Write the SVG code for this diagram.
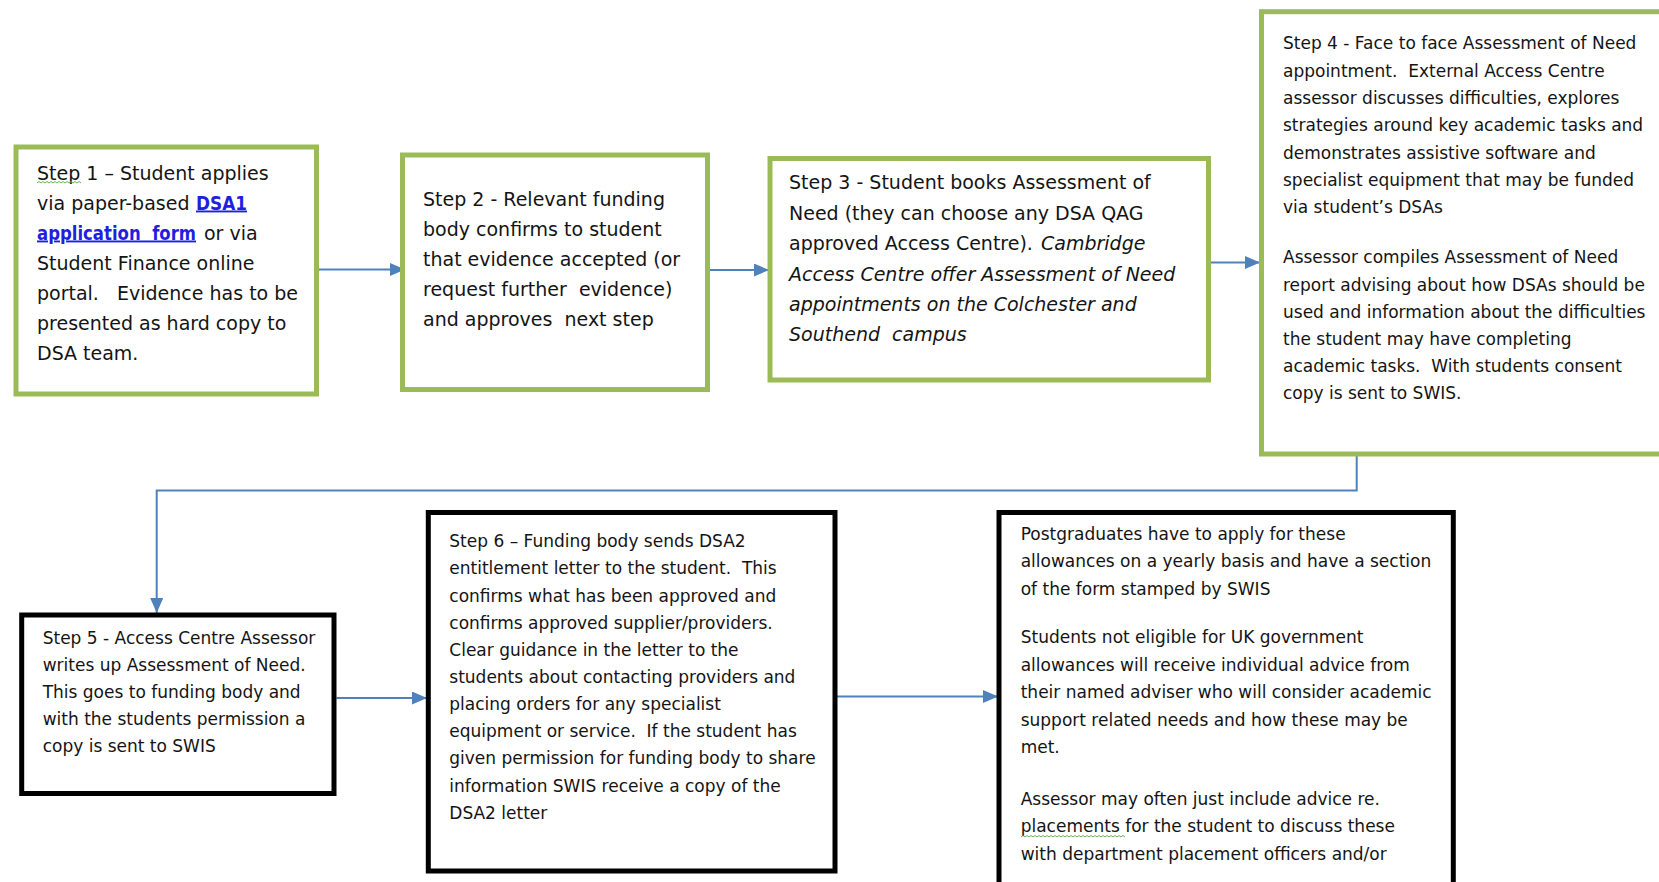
<svg xmlns="http://www.w3.org/2000/svg" width="1659" height="882" viewBox="0 0 1659 882">
<style>
.g{fill:#fff;stroke:#9BBB59;stroke-width:5}
.k{fill:#fff;stroke:#000;stroke-width:5}
.t{font-family:"DejaVu Sans",sans-serif;fill:#141414}
.l{font-size:19px}
.s{font-size:17px}
.it{font-style:italic}
.link{fill:#1F1FE0;font-weight:bold;text-decoration:underline}
.conn{fill:none;stroke:#4F81BD;stroke-width:2}
.sq{fill:none;stroke:#5BAA45;stroke-width:0.9}
</style>
<defs><marker id="ah" markerUnits="userSpaceOnUse" markerWidth="15" markerHeight="13" refX="15" refY="6.5" orient="auto"><path d="M0,0 L15,6.5 L0,13 Z" fill="#4F81BD"/></marker></defs>
<rect width="1659" height="882" fill="#fff"/>
<g id="connectors">
<path class="conn" d="M319,269.5 H405" marker-end="url(#ah)"/>
<path class="conn" d="M710,270 H769" marker-end="url(#ah)"/>
<path class="conn" d="M1211,262.5 H1260" marker-end="url(#ah)"/>
<path class="conn" d="M1356.7,456 V490.5 H156.7 V613" marker-end="url(#ah)"/>
<path class="conn" d="M336.5,698 H427" marker-end="url(#ah)"/>
<path class="conn" d="M837,696.5 H998" marker-end="url(#ah)"/>
</g>
<g id="step1">
<rect class="g" x="16" y="147" width="300.5" height="247"/>
<g class="t l">
<text x="37" y="179.5">Step 1 – Student applies</text>
<text x="37" y="209.5">via paper-based</text>
<text x="196" y="209.5" class="link" textLength="51" lengthAdjust="spacingAndGlyphs">DSA1</text>
<text x="37" y="239.5" class="link" textLength="159" lengthAdjust="spacingAndGlyphs">application&#160; form</text>
<text x="204" y="239.5">or via</text>
<text x="37" y="269.5">Student Finance online</text>
<text x="37" y="299.5">portal.&#160;&#160; Evidence has to be</text>
<text x="37" y="329.5">presented as hard copy to</text>
<text x="37" y="359.5">DSA team.</text>
</g>
<path class="sq" d="M37,183 l2,-1.5 2,1.5 2,-1.5 2,1.5 2,-1.5 2,1.5 2,-1.5 2,1.5 2,-1.5 2,1.5 2,-1.5 2,1.5 2,-1.5 2,1.5 2,-1.5 2,1.5 2,-1.5 2,1.5 2,-1.5 2,1.5 2,-1.5 2,1.5"/>
</g>
<g id="step2">
<rect class="g" x="402.5" y="155" width="305" height="234.5"/>
<g class="t l">
<text x="423" y="205.5">Step 2 - Relevant funding</text>
<text x="423" y="235.5">body confirms to student</text>
<text x="423" y="265.8">that evidence accepted (or</text>
<text x="423" y="296">request further&#160; evidence)</text>
<text x="423" y="326">and approves&#160; next step</text>
</g>
</g>
<g id="step3">
<rect class="g" x="770" y="158.5" width="438.5" height="221.5"/>
<g class="t l">
<text x="789" y="189">Step 3 - Student books Assessment of</text>
<text x="789" y="219.5">Need (they can choose any DSA QAG</text>
<text x="789" y="250">approved Access Centre).</text>
<text x="1041" y="250" class="it">Cambridge</text>
<text x="789" y="280.5" class="it">Access Centre offer Assessment of Need</text>
<text x="789" y="311" class="it">appointments on the Colchester and</text>
<text x="789" y="341" class="it">Southend&#160; campus</text>
</g>
</g>
<g id="step4">
<rect class="g" x="1261.5" y="11.7" width="420" height="442.3"/>
<g class="t s">
<text x="1283" y="49">Step 4 - Face to face Assessment of Need</text>
<text x="1283" y="76.5">appointment.&#160; External Access Centre</text>
<text x="1283" y="104">assessor discusses difficulties, explores</text>
<text x="1283" y="131">strategies around key academic tasks and</text>
<text x="1283" y="158.5">demonstrates assistive software and</text>
<text x="1283" y="186">specialist equipment that may be funded</text>
<text x="1283" y="213">via student’s DSAs</text>
<text x="1283" y="263">Assessor compiles Assessment of Need</text>
<text x="1283" y="290.5">report advising about how DSAs should be</text>
<text x="1283" y="317.5">used and information about the difficulties</text>
<text x="1283" y="345">the student may have completing</text>
<text x="1283" y="372">academic tasks.&#160; With students consent</text>
<text x="1283" y="399">copy is sent to SWIS.</text>
</g>
</g>
<g id="step5">
<rect class="k" x="21.7" y="615" width="312.3" height="178.5"/>
<g class="t s">
<text x="42.7" y="643.5">Step 5 - Access Centre Assessor</text>
<text x="42.7" y="670.7">writes up Assessment of Need.</text>
<text x="42.7" y="698">This goes to funding body and</text>
<text x="42.7" y="725">with the students permission a</text>
<text x="42.7" y="752">copy is sent to SWIS</text>
</g>
</g>
<g id="step6">
<rect class="k" x="428.3" y="512.5" width="406.7" height="358.5"/>
<g class="t s">
<text x="449.3" y="547">Step 6 – Funding body sends DSA2</text>
<text x="449.3" y="574">entitlement letter to the student.&#160; This</text>
<text x="449.3" y="601.5">confirms what has been approved and</text>
<text x="449.3" y="628.5">confirms approved supplier/providers.</text>
<text x="449.3" y="655.7">Clear guidance in the letter to the</text>
<text x="449.3" y="682.8">students about contacting providers and</text>
<text x="449.3" y="710">placing orders for any specialist</text>
<text x="449.3" y="737.2">equipment or service.&#160; If the student has</text>
<text x="449.3" y="764.4">given permission for funding body to share</text>
<text x="449.3" y="791.6">information SWIS receive a copy of the</text>
<text x="449.3" y="818.5">DSA2 letter</text>
</g>
</g>
<g id="note">
<rect class="k" x="999" y="512.5" width="454.3" height="400"/>
<g class="t s">
<text x="1020.7" y="539.5">Postgraduates have to apply for these</text>
<text x="1020.7" y="567">allowances on a yearly basis and have a section</text>
<text x="1020.7" y="594.5">of the form stamped by SWIS</text>
<text x="1020.7" y="643.3">Students not eligible for UK government</text>
<text x="1020.7" y="670.8">allowances will receive individual advice from</text>
<text x="1020.7" y="698.3">their named adviser who will consider academic</text>
<text x="1020.7" y="725.8">support related needs and how these may be</text>
<text x="1020.7" y="753.3">met.</text>
<text x="1020.7" y="805">Assessor may often just include advice re.</text>
<text x="1020.7" y="832.3">placements for the student to discuss these</text>
<text x="1020.7" y="859.5">with department placement officers and/or</text>
</g>
<path class="sq" d="M1021,837 l2,-1.5 2,1.5 2,-1.5 2,1.5 2,-1.5 2,1.5 2,-1.5 2,1.5 2,-1.5 2,1.5 2,-1.5 2,1.5 2,-1.5 2,1.5 2,-1.5 2,1.5 2,-1.5 2,1.5 2,-1.5 2,1.5 2,-1.5 2,1.5 2,-1.5 2,1.5 2,-1.5 2,1.5 2,-1.5 2,1.5 2,-1.5 2,1.5 2,-1.5 2,1.5 2,-1.5 2,1.5 2,-1.5 2,1.5 2,-1.5 2,1.5 2,-1.5 2,1.5 2,-1.5 2,1.5 2,-1.5 2,1.5 2,-1.5 2,1.5 2,-1.5 2,1.5 2,-1.5 2,1.5 2,-1.5 2,1.5"/>
</g>
</svg>
